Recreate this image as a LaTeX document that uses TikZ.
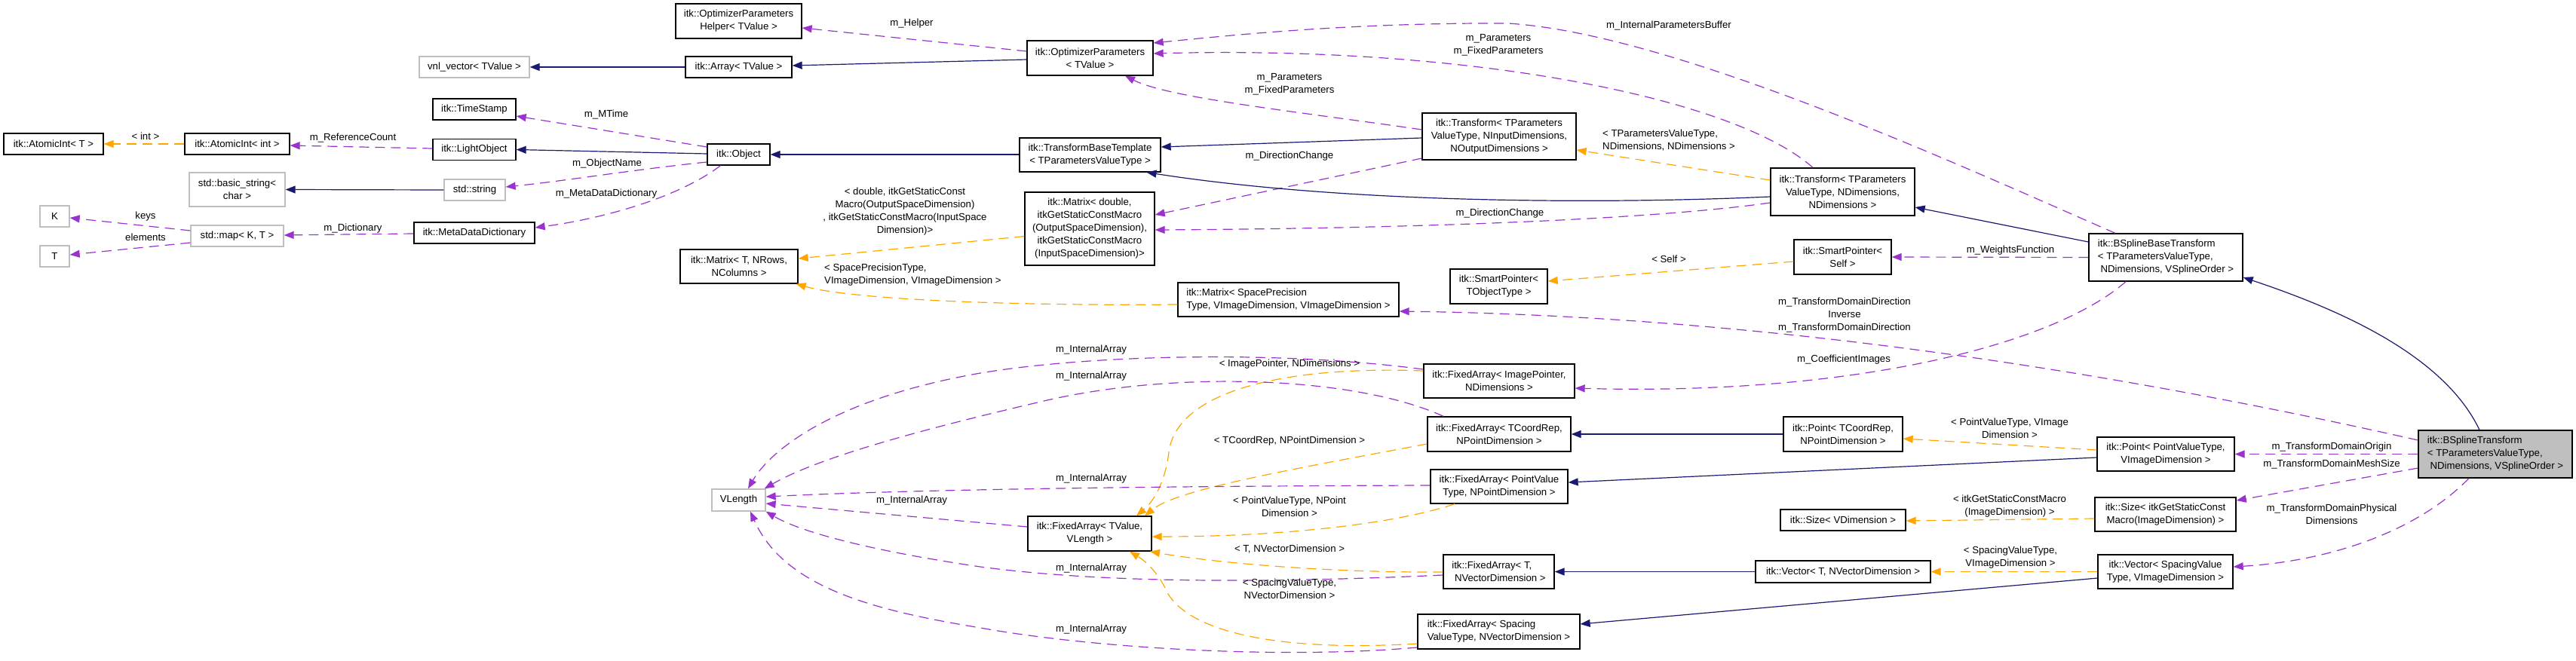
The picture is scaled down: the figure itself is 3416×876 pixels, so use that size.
\documentclass[tikz,border=0pt]{standalone}
\usepackage{fontspec}
\setmainfont{Liberation Sans}
\usetikzlibrary{arrows.meta}
\definecolor{usecol}{HTML}{9A32CD}
\definecolor{tplcol}{HTML}{FFA500}
\definecolor{inhcol}{HTML}{191970}
\definecolor{undoc}{HTML}{BFBFBF}
\tikzset{
  cls/.style={draw=black, line width=1.3pt, fill=white, inner sep=0pt, align=center,
              font=\fontsize{13.2}{17}\selectfont, text=black},
  ucls/.style={cls, draw=undoc},
  sz/.style 2 args={minimum width=#1pt, minimum height=#2pt},
  lbl/.style={inner sep=0pt, align=center, font=\fontsize{13.2}{17}\selectfont, text=black},
  tipend/.style={-{Triangle[length=13pt,width=10pt]}},
  usage/.style={tipend, draw=usecol, line width=1.2pt, dash pattern=on 13pt off 8pt},
  tmpl/.style={tipend, draw=tplcol, line width=1.2pt, dash pattern=on 13pt off 8pt},
  inh/.style={tipend, draw=inhcol, line width=1.2pt}
}
\begin{document}
\begin{tikzpicture}[x=1pt, y=-1pt]
\useasboundingbox (0,0) rectangle (3416,876);

% ---------- nodes ----------
\node[cls, sz={167}{46}] (helper) at (979.5,28) {itk::OptimizerParameters\\Helper< TValue >};
\node[ucls, sz={146}{28}] (vnl) at (629,89) {vnl\_vector< TValue >};
\node[cls, sz={141}{28}] (array) at (979.5,89) {itk::Array< TValue >};
\node[cls, sz={167}{46}] (optp) at (1445.5,77) {itk::OptimizerParameters\\< TValue >};
\node[cls, sz={110}{28}] (tstamp) at (629,145) {itk::TimeStamp};
\node[cls, sz={132}{28}] (aiT) at (71,191) {itk::AtomicInt< T >};
\node[cls, sz={139}{28}] (aiInt) at (314.5,191) {itk::AtomicInt< int >};
\node[cls, sz={110}{28}] (lobj) at (629,198.5) {itk::LightObject};
\node[ucls, sz={127}{45}] (bstr) at (314.5,251.5) {std::basic\_string<\\char >};
\node[ucls, sz={81}{28}] (sstr) at (629.5,252) {std::string};
\node[ucls, sz={39}{28}] (K) at (72.5,287) {K};
\node[ucls, sz={39}{28}] (T) at (72.5,340) {T};
\node[ucls, sz={123}{28}] (smap) at (314.5,313) {std::map< K, T >};
\node[cls, sz={160}{28}] (mdd) at (629,309) {itk::MetaDataDictionary};
\node[cls, sz={83}{28}] (obj) at (979.5,205) {itk::Object};
\node[cls, sz={156}{45}] (matT) at (980,353.5) {itk::Matrix< T, NRows,\\NColumns >};
\node[cls, sz={187}{45}] (tbt) at (1445.5,205.5) {itk::TransformBaseTemplate\\< TParametersValueType >};
\node[cls, sz={204}{62}] (trIn) at (1988,181) {itk::Transform< TParameters\\ValueType, NInputDimensions,\\NOutputDimensions >};
\node[cls, sz={172}{97}] (matD) at (1445,303.5) {itk::Matrix< double,\\itkGetStaticConstMacro\\(OutputSpaceDimension),\\itkGetStaticConstMacro\\(InputSpaceDimension)>};
\node[cls, sz={293}{45}, align=left] (matSP) at (1708.5,397.5) {itk::Matrix< SpacePrecision\\Type, VImageDimension, VImageDimension >};
\node[cls, sz={129}{46}] (spT) at (1987.5,380) {itk::SmartPointer<\\TObjectType >};
\node[cls, sz={191}{63}] (trN) at (2443.5,254.5) {itk::Transform< TParameters\\ValueType, NDimensions,\\NDimensions >};
\node[cls, sz={129}{46}] (spS) at (2443.5,341) {itk::SmartPointer<\\Self >};
\node[cls, sz={204}{63}, align=left] (bsb) at (2872,341.5) {itk::BSplineBaseTransform\\< TParametersValueType,\\\hspace*{3.7pt}NDimensions, VSplineOrder >};
\node[cls, fill=undoc, sz={204}{63}, align=left] (bst) at (3309,602.5) {itk::BSplineTransform\\< TParametersValueType,\\\hspace*{3.7pt}NDimensions, VSplineOrder >};
\node[cls, sz={200}{45}] (faIP) at (1988,505.5) {itk::FixedArray< ImagePointer,\\NDimensions >};
\node[cls, sz={190}{46}] (faCR) at (1988,576) {itk::FixedArray< TCoordRep,\\NPointDimension >};
\node[cls, sz={182}{45}] (faPV) at (1988,645.5) {itk::FixedArray< PointValue\\Type, NPointDimension >};
\node[cls, sz={164}{46}] (faTV) at (1445,708) {itk::FixedArray< TValue,\\VLength >};
\node[cls, sz={147}{45}, align=left] (faTN) at (1987.5,758.5) {itk::FixedArray< T,\\\hspace*{3.7pt}NVectorDimension >};
\node[cls, sz={215}{46}, align=left] (faSp) at (1987.5,838) {itk::FixedArray< Spacing\\ValueType, NVectorDimension >};
\node[ucls, sz={71}{29}] (vlen) at (979.5,663.5) {VLength};
\node[cls, sz={158}{46}] (ptCR) at (2444,576) {itk::Point< TCoordRep,\\NPointDimension >};
\node[cls, sz={166}{28}] (szV) at (2444,690) {itk::Size< VDimension >};
\node[cls, sz={232}{29}] (vecT) at (2444,758.5) {itk::Vector< T, NVectorDimension >};
\node[cls, sz={182}{45}] (ptPV) at (2872,602.5) {itk::Point< PointValueType,\\VImageDimension >};
\node[cls, sz={187}{45}] (szI) at (2871.5,682.5) {itk::Size< itkGetStaticConst\\Macro(ImageDimension) >};
\node[cls, sz={179}{45}] (vecSV) at (2871.5,758.5) {itk::Vector< SpacingValue\\Type, VImageDimension >};

% ---------- edges ----------
\draw[tmpl] (aiInt.west) -- (aiT.east);
\draw[usage] ([shift={(0,-1.5)}]lobj.west) -- ([shift={(0,2)}]aiInt.east);
\draw[inh] (sstr.west) -- (bstr.east);
\draw[usage] ([shift={(0,-7)}]smap.west) -- ([shift={(0,2)}]K.east);
\draw[usage] ([shift={(0,9)}]smap.west) -- ([shift={(0,-2)}]T.east);
\draw[usage] ([shift={(0,1)}]mdd.west) -- ([shift={(0,-1)}]smap.east);
\draw[usage] ([shift={(0,-10)}]obj.west) -- ([shift={(0,9)}]tstamp.east);
\draw[inh] ([shift={(0,-1)}]obj.west) -- (lobj.east);
\draw[usage] ([shift={(0,10)}]obj.west) .. controls (840,225) and (750,240) .. ([shift={(0,-4)}]sstr.east);
\draw[usage] ([shift={(-24,0)}]obj.south) .. controls (900,262) and (800,290) .. ([shift={(0,-7)}]mdd.east);
\draw[inh] (array.west) -- (vnl.east);
\draw[inh] ([shift={(0,2)}]optp.west) -- ([shift={(0,-2)}]array.east);
\draw[usage] ([shift={(0,-9)}]optp.west) -- ([shift={(0,9)}]helper.east);
\draw[inh] ([shift={(0,-0.5)}]tbt.west) -- (obj.east);
\draw[inh] ([shift={(0,2)}]trIn.west) -- ([shift={(0,-10.5)}]tbt.east);
\draw[usage] ([shift={(0,-9)}]trIn.west) .. controls (1720,148) and (1550,130) .. ([shift={(46.5,0)}]optp.south);
\draw[usage] ([shift={(0,29)}]trIn.west) -- ([shift={(0,-18.5)}]matD.east);
\draw[tmpl] ([shift={(0,10)}]matD.west) -- ([shift={(0,-10.5)}]matT.east);
\draw[tmpl] ([shift={(0,6.5)}]matSP.west) .. controls (1300,406) and (1120,395) .. ([shift={(-3,0)}]matT.south east);
\draw[tmpl] ([shift={(0,-15.5)}]trN.west) -- ([shift={(0,18)}]trIn.east);
\draw[inh] ([shift={(0,6.5)}]trN.west) .. controls (2150,270) and (1800,272) .. ([shift={(75,0)}]tbt.south);
\draw[usage] ([shift={(-39.5,0)}]trN.north) .. controls (2300,130) and (1950,60) .. ([shift={(0,-6)}]optp.east);
\draw[usage] ([shift={(0,14.5)}]trN.west) .. controls (2200,290) and (1900,303) .. ([shift={(0,1.5)}]matD.east);
\draw[inh] ([shift={(0,-20.5)}]bsb.west) -- ([shift={(0,20.5)}]trN.east);
\draw[usage] ([shift={(-67,0)}]bsb.north) .. controls (2600,220) and (2220,45) .. (2000,31) .. controls (1800,30) and (1650,45) .. ([shift={(0,-20)}]optp.east);
\draw[usage] (bsb.west) -- (spS.east);
\draw[tmpl] ([shift={(0,6)}]spS.west) -- ([shift={(0,-7)}]spT.east);
\draw[usage] ([shift={(-53,0)}]bsb.south) .. controls (2720,460) and (2450,525) .. ([shift={(0,9.5)}]faIP.east);
\draw[inh] ([shift={(-21,0)}]bst.north) .. controls (3240,470) and (3100,410) .. ([shift={(0,26.5)}]bsb.east);
\draw[usage] ([shift={(0,-18.5)}]bst.west) .. controls (2900,515) and (2400,420) .. ([shift={(0,15.5)}]matSP.east);
\draw[usage] (bst.west) -- (ptPV.east);
\draw[usage] ([shift={(0,18.5)}]bst.west) -- ([shift={(0,-18.5)}]szI.east);
\draw[usage] ([shift={(-35,0)}]bst.south) .. controls (3200,710) and (3080,745) .. ([shift={(0,-6.5)}]vecSV.east);
\draw[tmpl] ([shift={(0,-5.5)}]ptPV.west) -- ([shift={(0,6)}]ptCR.east);
\draw[inh] ([shift={(0,4.5)}]ptPV.west) -- ([shift={(0,-5.5)}]faPV.east);
\draw[inh] (ptCR.west) -- (faCR.east);
\draw[tmpl] ([shift={(0,5.5)}]szI.west) -- ([shift={(0,1)}]szV.east);
\draw[tmpl] (vecSV.west) -- (vecT.east);
\draw[inh] ([shift={(0,8.5)}]vecSV.west) -- ([shift={(0,-10)}]faSp.east);
\draw[inh] (vecT.west) -- (faTN.east);
\draw[tmpl] ([shift={(0,-13.5)}]faIP.west) .. controls (1700,485) and (1560,520) .. (1550,600) .. controls (1545,640) and (1530,665) .. ([shift={(62,0)}]faTV.north);
\draw[tmpl] ([shift={(0,13)}]faCR.west) .. controls (1700,625) and (1560,650) .. ([shift={(73,0)}]faTV.north);
\draw[tmpl] ([shift={(-59,0)}]faPV.south) .. controls (1850,695) and (1700,712) .. ([shift={(0,4)}]faTV.east);
\draw[tmpl] ([shift={(0,0.5)}]faTN.west) .. controls (1750,760) and (1600,745) .. ([shift={(80,0)}]faTV.south);
\draw[tmpl] ([shift={(0,16)}]faSp.west) .. controls (1700,865) and (1570,840) .. (1545,780) .. controls (1535,760) and (1520,745) .. ([shift={(53,0)}]faTV.south);
\draw[usage] ([shift={(0,-15.5)}]faIP.west) .. controls (1700,465) and (1450,470) .. (1300,495) .. controls (1100,530) and (1020,600) .. ([shift={(12.5,0)}]vlen.north);
\draw[usage] ([shift={(-74,0)}]faCR.north) .. controls (1800,500) and (1560,490) .. (1380,533) .. controls (1200,575) and (1080,610) .. ([shift={(-2,0)}]vlen.north east);
\draw[usage] ([shift={(0,-1.5)}]faPV.west) .. controls (1500,645) and (1200,650) .. ([shift={(0,-4.5)}]vlen.east);
\draw[usage] ([shift={(0,-9)}]faTV.west) -- ([shift={(0,4.5)}]vlen.east);
\draw[usage] ([shift={(0,4.5)}]faTN.west) .. controls (1650,775) and (1450,772) .. (1300,752) .. controls (1150,730) and (1060,705) .. (vlen.south east);
\draw[usage] ([shift={(0,21)}]faSp.west) .. controls (1700,875) and (1450,860) .. (1300,833) .. controls (1160,810) and (1040,780) .. ([shift={(15.5,0)}]vlen.south);

% ---------- edge labels ----------
\node[lbl] (l1) at (193,181) {< int >};
\node[lbl] (l2) at (468,183) {m\_ReferenceCount};
\node[lbl] (l3) at (193,287) {keys};
\node[lbl] (l4) at (193,315) {elements};
\node[lbl] (l5) at (468,303) {m\_Dictionary};
\node[lbl] (l6) at (804,152) {m\_MTime};
\node[lbl] (l7) at (805,217) {m\_ObjectName};
\node[lbl] (l8) at (804,257) {m\_MetaDataDictionary};
\node[lbl] (l9) at (1209,31) {m\_Helper};
\node[lbl] (l10) at (1200,281) {< double, itkGetStaticConst\\Macro(OutputSpaceDimension)\\, itkGetStaticConstMacro(InputSpace\\Dimension)>};
\node[lbl, align=left, anchor=west] (l11) at (1093,365) {< SpacePrecisionType,\\VImageDimension, VImageDimension >};
\node[lbl] (l12) at (1710,112) {m\_Parameters\\m\_FixedParameters};
\node[lbl] (l13) at (1987,60) {m\_Parameters\\m\_FixedParameters};
\node[lbl] (l14) at (2213,34) {m\_InternalParametersBuffer};
\node[lbl] (l15) at (1710,207) {m\_DirectionChange};
\node[lbl] (l16) at (1989,283) {m\_DirectionChange};
\node[lbl, align=left, anchor=west] (l17) at (2125,186) {< TParametersValueType,\\NDimensions, NDimensions >};
\node[lbl] (l18) at (2213,344) {< Self >};
\node[lbl] (l19) at (2666,332) {m\_WeightsFunction};
\node[lbl] (l20) at (2446,418) {m\_TransformDomainDirection\\Inverse\\m\_TransformDomainDirection};
\node[lbl] (l21) at (2445,477) {m\_CoefficientImages};
\node[lbl] (l22) at (2665,568) {< PointValueType, VImage\\Dimension >};
\node[lbl] (l23) at (2665,672) {< itkGetStaticConstMacro\\(ImageDimension) >};
\node[lbl] (l24) at (2666,740) {< SpacingValueType,\\VImageDimension >};
\node[lbl] (l25) at (3092,593) {m\_TransformDomainOrigin};
\node[lbl] (l26) at (3092,616) {m\_TransformDomainMeshSize};
\node[lbl] (l27) at (3092,682) {m\_TransformDomainPhysical\\Dimensions};
\node[lbl] (l28) at (1447,464) {m\_InternalArray};
\node[lbl] (l29) at (1447,499) {m\_InternalArray};
\node[lbl] (l30) at (1447,635) {m\_InternalArray};
\node[lbl] (l31) at (1209,664) {m\_InternalArray};
\node[lbl] (l32) at (1447,754) {m\_InternalArray};
\node[lbl] (l33) at (1447,835) {m\_InternalArray};
\node[lbl] (l34) at (1710,483) {< ImagePointer, NDimensions >};
\node[lbl] (l35) at (1710,585) {< TCoordRep, NPointDimension >};
\node[lbl] (l36) at (1710,672) {< PointValueType, NPoint\\Dimension >};
\node[lbl] (l37) at (1710,729) {< T, NVectorDimension >};
\node[lbl] (l38) at (1710,781) {< SpacingValueType,\\NVectorDimension >};
\end{tikzpicture}
\end{document}
